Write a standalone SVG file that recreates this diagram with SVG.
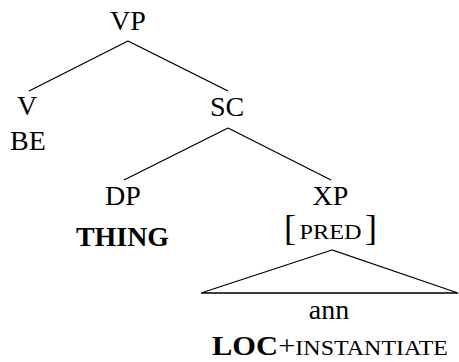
<svg xmlns="http://www.w3.org/2000/svg" width="459" height="362" viewBox="0 0 459 362">
<style>
text{font-family:"Liberation Serif","Times New Roman",Times,"Nimbus Roman","Nimbus Roman No9 L",FreeSerif,"Noto Serif","DejaVu Serif",serif;fill:#000;font-size:28px;text-anchor:middle}
.b{font-weight:bold}
.sc{font-size:22px}
.br{font-size:36px;font-weight:normal}
line,polygon{stroke:#000;stroke-width:1.3;fill:none}
</style>
<rect width="459" height="362" fill="#fff"/>
<g id="connectors">
<line x1="128" y1="41" x2="29" y2="91"/>
<line x1="128" y1="41" x2="228" y2="91"/>
<line x1="228" y1="128" x2="124" y2="180"/>
<line x1="228" y1="128" x2="331" y2="180"/>
<polygon points="332,250 201,293 458,293"/>
</g>
<g id="vp"><text x="128" y="30">VP</text></g>
<g id="v"><text x="27" y="115">V</text><text x="28" y="150">BE</text></g>
<g id="sc"><text x="227" y="116">SC</text></g>
<g id="dp"><text x="123" y="205">DP</text><text class="b" x="122.5" y="246" textLength="93" lengthAdjust="spacingAndGlyphs">THING</text></g>
<g id="xp"><text x="330.5" y="205">XP</text>
<text class="br" x="290" y="240">[</text>
<text class="sc" x="330.5" y="239" textLength="62" lengthAdjust="spacingAndGlyphs">PRED</text>
<text class="br" x="371" y="240">]</text>
</g>
<g id="ann"><text x="329" y="319">ann</text>
<text x="212" y="355" style="text-anchor:start" textLength="236" lengthAdjust="spacingAndGlyphs"><tspan class="b">LOC</tspan><tspan>+</tspan><tspan class="sc">INSTANTIATE</tspan></text>
</g>
</svg>
